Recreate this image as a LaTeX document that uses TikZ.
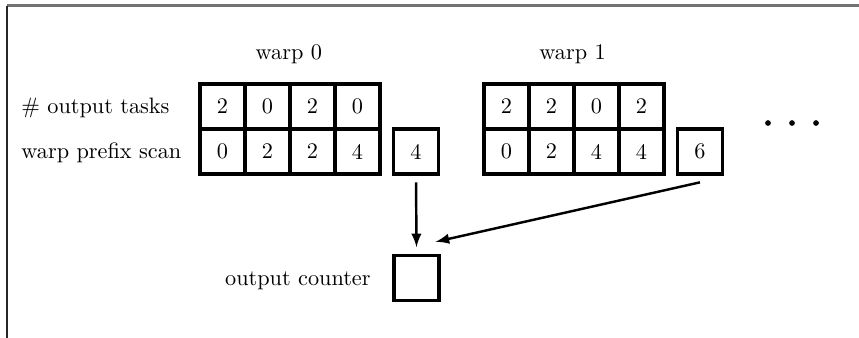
\documentclass[tikz,border=0pt]{standalone}
\usetikzlibrary{calc}
\tikzset{
  cell/.style={draw, line width=1.5pt, minimum size=0.71cm, inner sep=0pt},
  lbl/.style={inner sep=0pt},
  flow/.style={-latex, line width=1.1pt},
}
\begin{document}
\begin{tikzpicture}
        \useasboundingbox (0,0) rectangle (13.562,-5.336);
        % frame
        \draw[black!55, line width=1pt] (0.11,-0.087) -- (13.562,-0.087);
        \draw[black!85, line width=1pt] (0.11,-0.087) -- (0.11,-5.336);

        % warp 0
        \node[anchor=base] (lw0) at (4.56,-0.947) {warp 0};
        \foreach \v [count=\i from 0] in {2,0,2,0}
        {
            \node[cell] (w0a\i) at (3.513+0.71*\i,-1.681) {\v};
        }
        \foreach \v [count=\i from 0] in {0,2,2,4}
        {
            \node[cell] (w0b\i) at (3.513+0.71*\i,-2.392) {\v};
        }
        \node[cell] (sum0) at (6.568,-2.392) {4};

        % warp 1
        \node[anchor=base] (lw1) at (9.04,-0.947) {warp 1};
        \foreach \v [count=\i from 0] in {2,2,0,2}
        {
            \node[cell] (w1a\i) at (7.996+0.71*\i,-1.681) {\v};
        }
        \foreach \v [count=\i from 0] in {0,2,4,4}
        {
            \node[cell] (w1b\i) at (7.996+0.71*\i,-2.392) {\v};
        }
        \node[cell] (sum1) at (11.05,-2.392) {6};

        \foreach \x in {12.125,12.504,12.883}
        {
            \fill (\x,-1.942) circle (0.045);
        }

        % row labels
        \node[lbl, anchor=base west] (ltask) at (0.332,-1.795) {\# output tasks};
        \node[lbl, anchor=base west] (lscan) at (0.332,-2.506) {warp prefix scan};

        % output counter
        \node[cell] (cnt) at (6.576,-4.389) {};
        \node[lbl, anchor=base east] (lcnt) at (5.857,-4.515) {output counter};
        \coordinate (cin) at ($(cnt.north east)+(-0.08,0.19)$);

        \draw[flow, shorten <=3pt, shorten >=3pt] (sum0.south) -- (cnt.north);
        \draw[flow] ([yshift=-3pt]sum1.south) -- (cin);
    \end{tikzpicture}
\end{document}
